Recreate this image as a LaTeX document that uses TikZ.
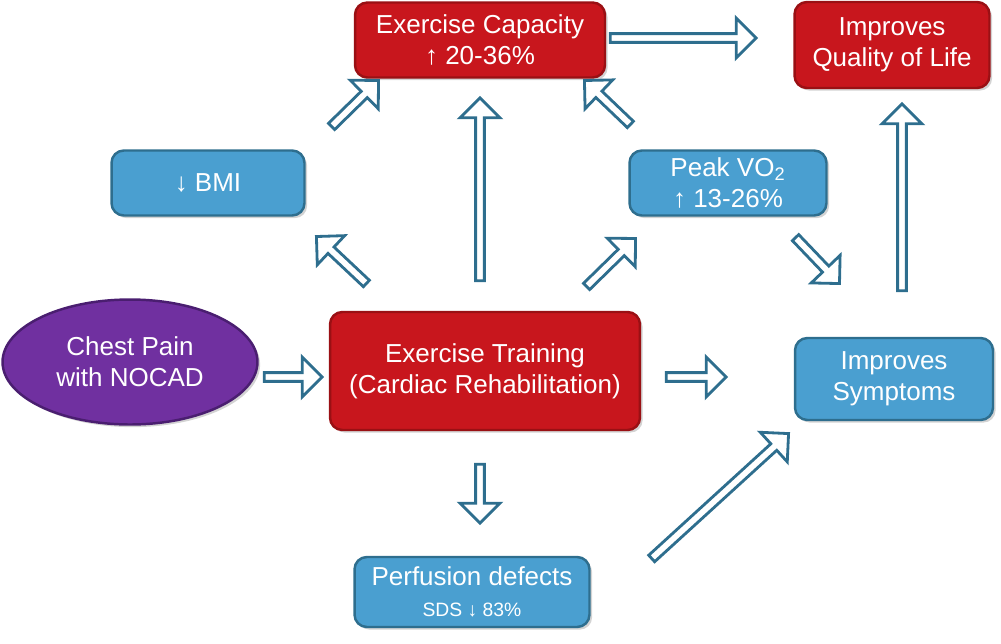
\documentclass[tikz,border=0pt]{standalone}
\usepackage{fontspec}
\setmainfont{Liberation Sans}
\usetikzlibrary{shapes.geometric,shapes.arrows,calc,shadows}
\definecolor{rd}{HTML}{C8161D}
\definecolor{rdb}{HTML}{9A1014}
\definecolor{bl}{HTML}{4A9FD0}
\definecolor{blb}{HTML}{2E6E8E}
\definecolor{pu}{HTML}{7030A0}
\definecolor{pub}{HTML}{4A1E70}
\tikzset{
 box/.style={rounded corners=7pt, line width=1.4pt, text=white, align=center, font=\fontsize{14.8}{17.5}\selectfont, drop shadow={shadow xshift=1.5pt,shadow yshift=-1.5pt,opacity=0.35}},
 redbox/.style={box, fill=rd, draw=rdb},
 bluebox/.style={box, fill=bl, draw=blb},
 barrow/.style={single arrow, draw=blb, fill=white, line width=1.6pt, inner sep=0pt, minimum width=0.8cm, single arrow head extend=0.1cm, single arrow tip angle=90, text width=0pt}
}
\newcommand{\barr}[2]{\path let \p1=($(#2)-(#1)$), \n1={atan2(\y1,\x1)}, \n2={veclen(\x1,\y1)} in node[barrow, rotate=\n1, minimum height=\n2] at ($(#1)!0.5!(#2)$) {};}
\begin{document}
\begin{tikzpicture}[x=0.02cm,y=-0.02cm]
\useasboundingbox (0,0) rectangle (1001,643);
\node[redbox, minimum width=5cm, minimum height=1.5cm] (cap) at (480,40) {Exercise Capacity\\↑ 20-36\%};
\node[redbox, minimum width=3.9cm, minimum height=1.72cm] (qol) at (892,45) {Improves\\Quality of Life};
\node[bluebox, minimum width=3.86cm, minimum height=1.3cm] (bmi) at (208,183) {↓ BMI};
\node[bluebox, minimum width=3.94cm, minimum height=1.3cm] (vo2) at (728,183) {Peak VO\textsubscript{2}\\↑ 13-26\%};
\node[ellipse, fill=pu, draw=pub, line width=1.4pt, text=white, align=center, font=\fontsize{14.8}{17.5}\selectfont, minimum width=5.1cm, minimum height=2.5cm, drop shadow={shadow xshift=1.5pt,shadow yshift=-1.5pt,opacity=0.35}] (chest) at (130,362) {Chest Pain\\with NOCAD};
\node[redbox, minimum width=6.2cm, minimum height=2.36cm] (et) at (485,371) {Exercise Training\\(Cardiac Rehabilitation)};
\node[bluebox, minimum width=3.96cm, minimum height=1.64cm] (sym) at (894,379) {Improves\\Symptoms};
\node[bluebox, minimum width=4.7cm, minimum height=1.4cm] (perf) at (472,592) {Perfusion defects\\{\fontsize{11}{13}\selectfont SDS ↓ 83\%}};
% arrow endpoints
\coordinate (a1) at (262,377); \coordinate (b1) at (320,377);
\coordinate (a2) at (664,377); \coordinate (b2) at (724,377);
\coordinate (a3) at (480,462); \coordinate (b3) at (480,521);
\coordinate (a4) at (480,283); \coordinate (b4) at (480,100);
\coordinate (a5) at (368,285); \coordinate (b5) at (318,238);
\coordinate (a6) at (585,288); \coordinate (b6) at (634,240);
\coordinate (a7) at (330,128); \coordinate (b7) at (377,82);
\coordinate (a8) at (632,126); \coordinate (b8) at (586,82);
\coordinate (a9) at (608,38); \coordinate (b9) at (754,38);
\coordinate (a10) at (794,236); \coordinate (b10) at (838,282);
\coordinate (a11) at (902,293); \coordinate (b11) at (902,106);
\coordinate (a12) at (650,560); \coordinate (b12) at (787,435);
\barr{a1}{b1}\barr{a2}{b2}\barr{a3}{b3}\barr{a4}{b4}\barr{a5}{b5}\barr{a6}{b6}
\barr{a7}{b7}\barr{a8}{b8}\barr{a9}{b9}\barr{a10}{b10}\barr{a11}{b11}\barr{a12}{b12}
\end{tikzpicture}
\end{document}
